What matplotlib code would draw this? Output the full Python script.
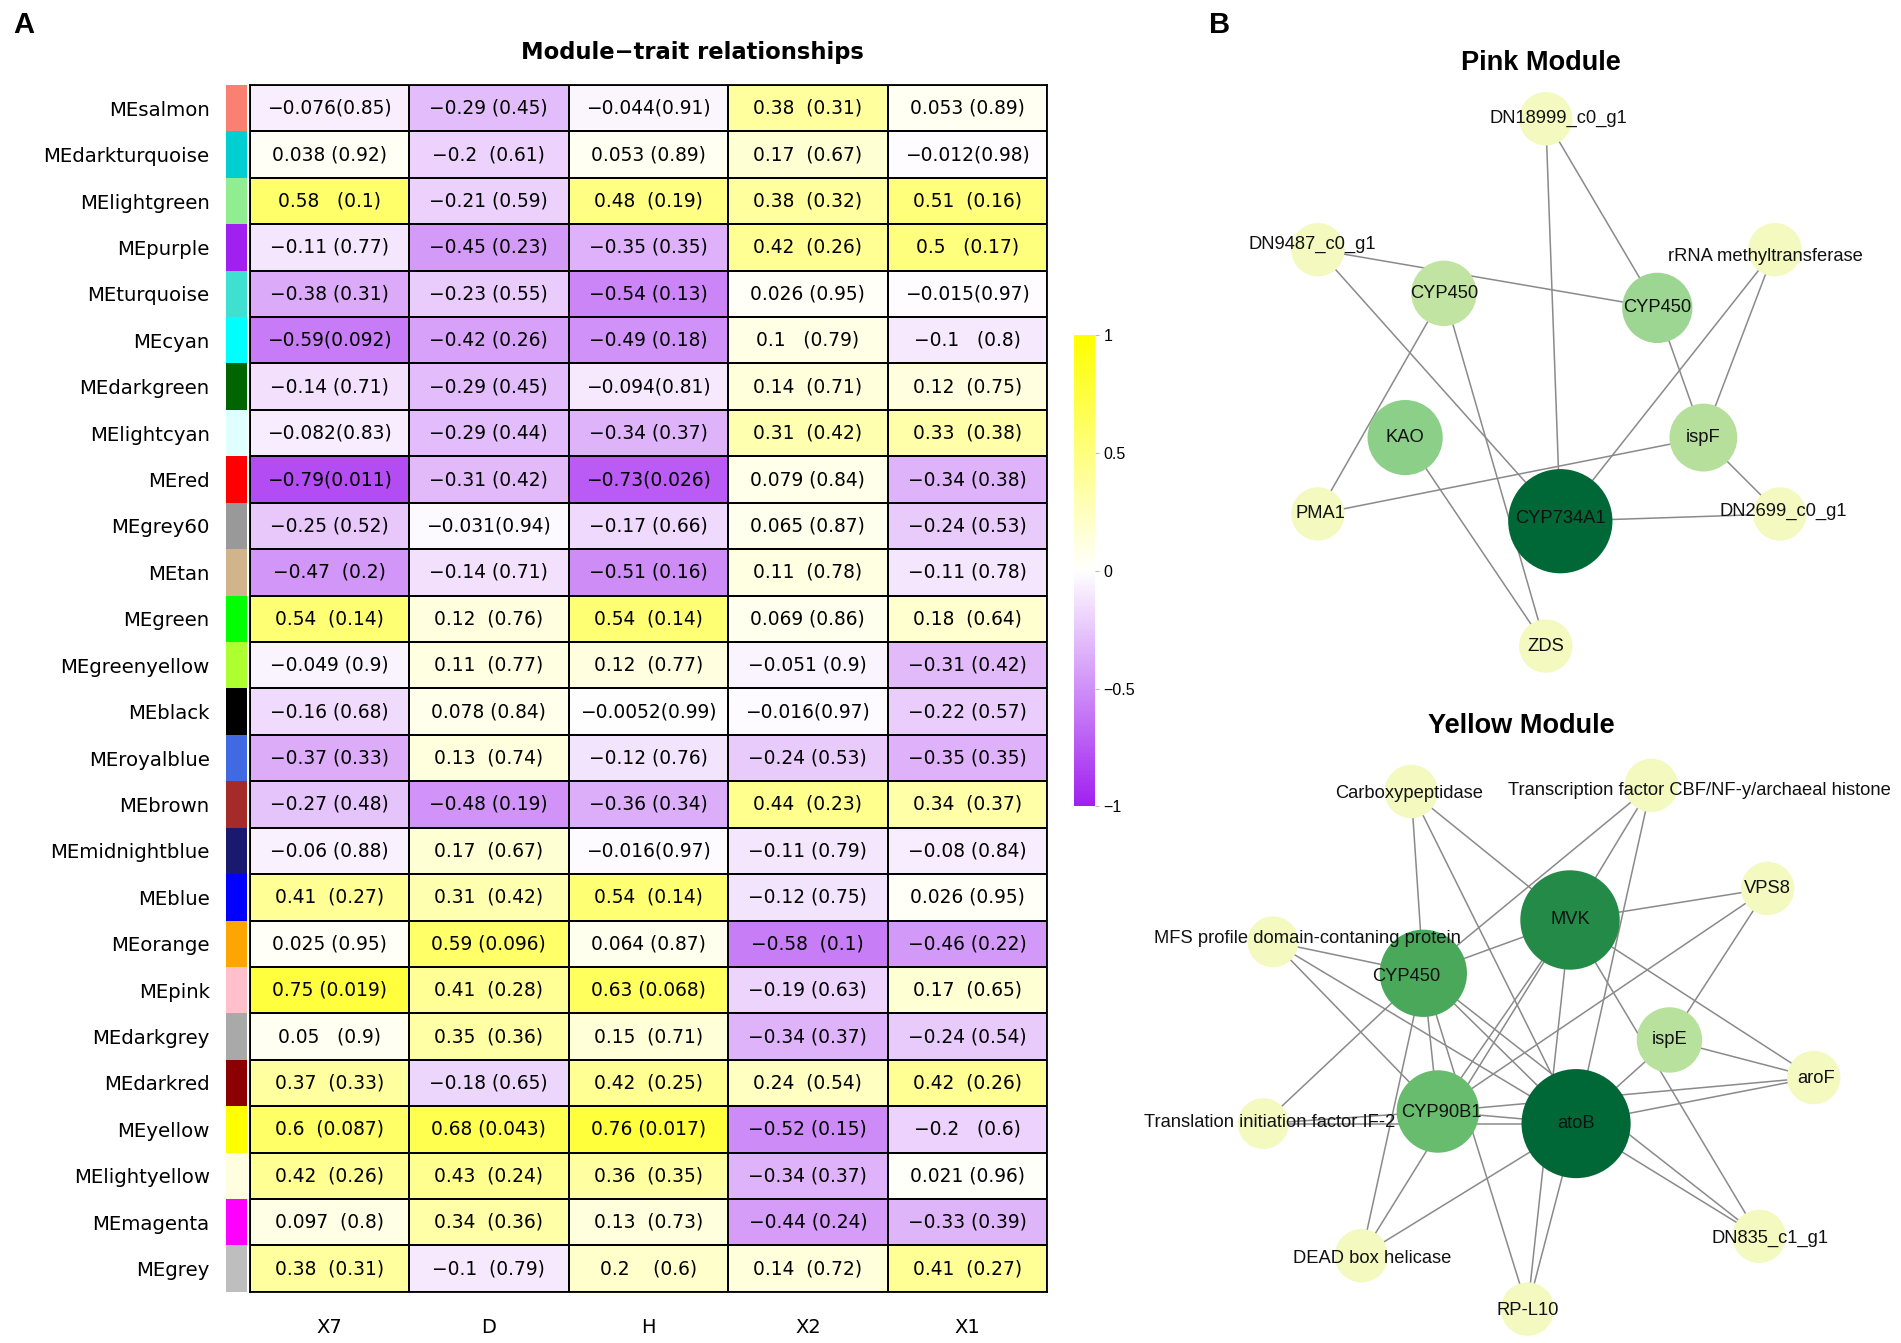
import numpy as np
import matplotlib.pyplot as plt
from matplotlib.colors import LinearSegmentedColormap, ListedColormap
from matplotlib.patches import Circle

# ---------------- Panel A data: module-trait correlations ----------------
modules = ['MEsalmon', 'MEdarkturquoise', 'MElightgreen', 'MEpurple', 'MEturquoise',
           'MEcyan', 'MEdarkgreen', 'MElightcyan', 'MEred', 'MEgrey60', 'MEtan',
           'MEgreen', 'MEgreenyellow', 'MEblack', 'MEroyalblue', 'MEbrown',
           'MEmidnightblue', 'MEblue', 'MEorange', 'MEpink', 'MEdarkgrey',
           'MEdarkred', 'MEyellow', 'MElightyellow', 'MEmagenta', 'MEgrey']
module_colors = ['#FA8072', '#00CED1', '#90EE90', '#A020F0', '#40E0D0',
                 '#00FFFF', '#006400', '#E0FFFF', '#FF0000', '#999999', '#D2B48C',
                 '#00FF00', '#ADFF2F', '#000000', '#4169E1', '#A52A2A',
                 '#191970', '#0000FF', '#FFA500', '#FFC0CB', '#A9A9A9',
                 '#8B0000', '#FFFF00', '#FFFFE0', '#FF00FF', '#BEBEBE']
traits = ['X7', 'D', 'H', 'X2', 'X1']

cor_x7 = [-0.076, 0.038, 0.58, -0.11, -0.38, -0.59, -0.14, -0.082, -0.79, -0.25, -0.47,
          0.54, -0.049, -0.16, -0.37, -0.27, -0.06, 0.41, 0.025, 0.75, 0.05,
          0.37, 0.6, 0.42, 0.097, 0.38]
p_x7 = [0.85, 0.92, 0.1, 0.77, 0.31, 0.092, 0.71, 0.83, 0.011, 0.52, 0.2,
        0.14, 0.9, 0.68, 0.33, 0.48, 0.88, 0.27, 0.95, 0.019, 0.9,
        0.33, 0.087, 0.26, 0.8, 0.31]
cor_d = [-0.29, -0.2, -0.21, -0.45, -0.23, -0.42, -0.29, -0.29, -0.31, -0.031, -0.14,
         0.12, 0.11, 0.078, 0.13, -0.48, 0.17, 0.31, 0.59, 0.41, 0.35,
         -0.18, 0.68, 0.43, 0.34, -0.1]
p_d = [0.45, 0.61, 0.59, 0.23, 0.55, 0.26, 0.45, 0.44, 0.42, 0.94, 0.71,
       0.76, 0.77, 0.84, 0.74, 0.19, 0.67, 0.42, 0.096, 0.28, 0.36,
       0.65, 0.043, 0.24, 0.36, 0.79]
cor_h = [-0.044, 0.053, 0.48, -0.35, -0.54, -0.49, -0.094, -0.34, -0.73, -0.17, -0.51,
         0.54, 0.12, -0.0052, -0.12, -0.36, -0.016, 0.54, 0.064, 0.63, 0.15,
         0.42, 0.76, 0.36, 0.13, 0.2]
p_h = [0.91, 0.89, 0.19, 0.35, 0.13, 0.18, 0.81, 0.37, 0.026, 0.66, 0.16,
       0.14, 0.77, 0.99, 0.76, 0.34, 0.97, 0.14, 0.87, 0.068, 0.71,
       0.25, 0.017, 0.35, 0.73, 0.6]
cor_x2 = [0.38, 0.17, 0.38, 0.42, 0.026, 0.1, 0.14, 0.31, 0.079, 0.065, 0.11,
          0.069, -0.051, -0.016, -0.24, 0.44, -0.11, -0.12, -0.58, -0.19, -0.34,
          0.24, -0.52, -0.34, -0.44, 0.14]
p_x2 = [0.31, 0.67, 0.32, 0.26, 0.95, 0.79, 0.71, 0.42, 0.84, 0.87, 0.78,
        0.86, 0.9, 0.97, 0.53, 0.23, 0.79, 0.75, 0.1, 0.63, 0.37,
        0.54, 0.15, 0.37, 0.24, 0.72]
cor_x1 = [0.053, -0.012, 0.51, 0.5, -0.015, -0.1, 0.12, 0.33, -0.34, -0.24, -0.11,
          0.18, -0.31, -0.22, -0.35, 0.34, -0.08, 0.026, -0.46, 0.17, -0.24,
          0.42, -0.2, 0.021, -0.33, 0.41]
p_x1 = [0.89, 0.98, 0.16, 0.17, 0.97, 0.8, 0.75, 0.38, 0.38, 0.53, 0.78,
        0.64, 0.42, 0.57, 0.35, 0.37, 0.84, 0.95, 0.22, 0.65, 0.54,
        0.26, 0.6, 0.96, 0.39, 0.27]

# ---------------- Panel B data: co-expression networks ----------------
pink_ids = ['DN18999', 'DN9487', 'rRNA', 'CYP450a', 'CYP450b', 'KAO', 'ispF',
            'PMA1', 'CYP734A1', 'DN2699', 'ZDS']
pink_labels = ['DN18999_c0_g1', 'DN9487_c0_g1', 'rRNA methyltransferase', 'CYP450',
               'CYP450', 'KAO', 'ispF', 'PMA1', 'CYP734A1', 'DN2699_c0_g1', 'ZDS']
pink_x = [1275, 1087, 1464, 1191, 1367, 1159, 1405, 1087, 1287, 1468, 1275]
pink_y = [98, 206, 206, 242, 254, 361, 361, 424, 430, 424, 533]
pink_r = [22, 22, 22, 27, 29, 31, 28, 22, 43, 22, 22]
pink_colors = ['#f4f9bf', '#f4f9bf', '#f4f9bf', '#c2e4a2', '#9dd692', '#8ccf88',
               '#b6df9c', '#f4f9bf', '#006837', '#f4f9bf', '#f4f9bf']
pink_label_dx = [10, -5, -8, 0, 0, 0, 0, 2, 0, 3, 0]
pink_label_dy = [0, -4, 6, 0, 0, 0, 0, 0, -2, -2, 0]
pink_edges = [('DN18999', 'CYP734A1'), ('DN18999', 'CYP450b'), ('DN9487', 'CYP450b'),
              ('DN9487', 'CYP734A1'), ('CYP450a', 'PMA1'), ('CYP450a', 'ZDS'),
              ('KAO', 'ZDS'), ('CYP450b', 'ispF'), ('rRNA', 'CYP734A1'),
              ('rRNA', 'ispF'), ('ispF', 'PMA1'), ('ispF', 'DN2699'),
              ('CYP734A1', 'DN2699')]

yel_ids = ['Carb', 'TF', 'VPS8', 'MVK', 'MFS', 'CYP450', 'ispE', 'aroF', 'TIF2',
           'CYP90B1', 'atoB', 'DN835', 'DEAD', 'RPL10']
yel_labels = ['Carboxypeptidase', 'Transcription factor CBF/NF-y/archaeal histone', 'VPS8',
              'MVK', 'MFS profile domain-contaning protein', 'CYP450', 'ispE', 'aroF',
              'Translation initiation factor IF-2', 'CYP90B1', 'atoB', 'DN835_c1_g1',
              'DEAD box helicase', 'RP-L10']
yel_x = [1164, 1362, 1458, 1295, 1050, 1174, 1377, 1496, 1042, 1186, 1300, 1451, 1123, 1260]
yel_y = [653, 648, 733, 759, 777, 803, 858, 889, 927, 917, 927, 1020, 1036, 1080]
yel_r = [22, 22, 22, 41, 21, 36, 27, 22, 21, 34, 45, 22, 22, 22]
yel_colors = ['#f4f9bf', '#f4f9bf', '#f4f9bf', '#238a47', '#f4f9bf', '#4aa85b', '#b9e19e',
              '#f4f9bf', '#f4f9bf', '#68bc6e', '#006837', '#f4f9bf', '#f4f9bf', '#f4f9bf']
yel_label_dx = [-2, 40, 0, 0, 28, -14, 0, 2, 5, 3, 0, 9, 9, 0]
yel_label_dy = [2, 4, 0, 0, -3, 3, 0, 1, -1, 1, 0, 2, 2, 1]
yel_edges = [('Carb', 'CYP450'), ('Carb', 'atoB'), ('Carb', 'MVK'),
             ('TF', 'CYP450'), ('TF', 'MVK'), ('TF', 'atoB'),
             ('VPS8', 'MVK'), ('VPS8', 'CYP90B1'), ('VPS8', 'ispE'),
             ('MVK', 'CYP450'), ('MVK', 'CYP90B1'), ('MVK', 'DEAD'), ('MVK', 'RPL10'),
             ('MVK', 'aroF'), ('MVK', 'DN835'),
             ('MFS', 'CYP450'), ('MFS', 'CYP90B1'), ('MFS', 'atoB'),
             ('TIF2', 'CYP450'), ('TIF2', 'CYP90B1'), ('TIF2', 'atoB'),
             ('CYP450', 'CYP90B1'), ('CYP450', 'atoB'), ('CYP450', 'DN835'),
             ('CYP450', 'DEAD'), ('CYP450', 'RPL10'),
             ('CYP90B1', 'atoB'), ('CYP90B1', 'aroF'),
             ('ispE', 'atoB'), ('ispE', 'aroF'), ('aroF', 'atoB'),
             ('atoB', 'DEAD'), ('atoB', 'RPL10'), ('atoB', 'DN835')]

# ---------------- figure ----------------
W, H = 1568, 1108   # layout frame measured on the reference
fig = plt.figure(figsize=(19.01, 13.43), dpi=100)


def fx(x):
    return x / W


def fy(y):
    return 1 - y / H


cor = np.array([cor_x7, cor_d, cor_h, cor_x2, cor_x1]).T
pval = np.array([p_x7, p_d, p_h, p_x2, p_x1]).T
n_rows, n_cols = cor.shape

cmap = LinearSegmentedColormap.from_list('pwy', ['#A020F0', '#FFFFFF', '#FFFF00'])

hm_l, hm_r, hm_t, hm_b = 205.8, 863.7, 70.1, 1065.8
ax = fig.add_axes([fx(hm_l), fy(hm_b), fx(hm_r - hm_l), (hm_b - hm_t) / H])
mesh = ax.pcolormesh(np.arange(n_cols + 1), np.arange(n_rows + 1), cor, cmap=cmap,
                     vmin=-1, vmax=1, edgecolors='black', linewidth=1.3)
ax.set_xlim(0, n_cols)
ax.set_ylim(n_rows, 0)
for i in range(n_rows):
    for j in range(n_cols):
        r = str(cor[i, j])
        p = f'({pval[i, j]})'
        gap = ' ' * max(0, 12 - len(r) - len(p))
        ax.text(j + 0.5, i + 0.5, r.replace('-', '\u2212') + gap + p,
                ha='center', va='center', fontsize=13.4, color='black')
ax.set_yticks([])
ax.set_xticks(np.arange(n_cols) + 0.5)
ax.set_xticklabels(traits, fontsize=14)
ax.tick_params(axis='x', length=0, pad=19)
for s in ax.spines.values():
    s.set_linewidth(1.3)

# module colour strip with row labels
ax_s = fig.add_axes([fx(186.7), fy(hm_b), fx(204 - 186.7), (hm_b - hm_t) / H])
ax_s.imshow(np.arange(n_rows).reshape(-1, 1), cmap=ListedColormap(module_colors),
            aspect='auto', extent=(0, 1, n_rows, 0), interpolation='nearest')
ax_s.set_xticks([])
ax_s.set_yticks(np.arange(n_rows) + 0.5)
ax_s.set_yticklabels(modules, fontsize=14.2)
ax_s.tick_params(axis='y', length=0, pad=12)
for s in ax_s.spines.values():
    s.set_visible(False)

# colour bar
cax = fig.add_axes([fx(885.6), fy(665.3), fx(903.3 - 885.6), (665.3 - 276.3) / H])
cb = fig.colorbar(mesh, cax=cax, ticks=[-1, -0.5, 0, 0.5, 1])
cb.outline.set_visible(False)
cb.ax.set_yticklabels(['\u22121', '\u22120.5', '0', '0.5', '1'], family='Liberation Sans')
cb.ax.tick_params(length=3, color='#bbbbbb', labelsize=11.5, pad=3)

# overlay for titles and networks
ov = fig.add_axes([0, 0, 1, 1])
ov.set_xlim(0, W)
ov.set_ylim(H, 0)
ov.axis('off')
ov.patch.set_visible(False)

ov.text(20, 21, 'A', fontsize=21, fontweight='bold', ha='center', va='center',
        family='Liberation Sans')
ov.text(1006, 21, 'B', fontsize=21, fontweight='bold', ha='center', va='center',
        family='Liberation Sans')
ov.text(571, 43, 'Module\u2212trait relationships', fontsize=16.3, fontweight='bold',
        ha='center', va='center')
ov.text(1271, 52, 'Pink Module', fontsize=19.5, fontweight='bold', ha='center',
        va='center', family='Liberation Sans')
ov.text(1255, 599, 'Yellow Module', fontsize=19.5, fontweight='bold', ha='center',
        va='center', family='Liberation Sans')


def draw_network(ids, labels, xs, ys, rs, colors, dxs, dys, edges):
    pos = {k: (x, y) for k, x, y in zip(ids, xs, ys)}
    for a, b in edges:
        ov.plot([pos[a][0], pos[b][0]], [pos[a][1], pos[b][1]], color='#8a8a8a',
                lw=1.1, zorder=1)
    for lab, x, y, r, c, dx, dy in zip(labels, xs, ys, rs, colors, dxs, dys):
        ov.add_patch(Circle((x, y), r, facecolor=c, edgecolor='none', zorder=2))
        ov.text(x + dx, y + dy, lab, ha='center', va='center', fontsize=13.2,
                family='Liberation Sans', color='#111111', zorder=3)


draw_network(pink_ids, pink_labels, pink_x, pink_y, pink_r, pink_colors,
             pink_label_dx, pink_label_dy, pink_edges)
draw_network(yel_ids, yel_labels, yel_x, yel_y, yel_r, yel_colors,
             yel_label_dx, yel_label_dy, yel_edges)

fig.savefig('out.png', dpi=100, facecolor='white')
